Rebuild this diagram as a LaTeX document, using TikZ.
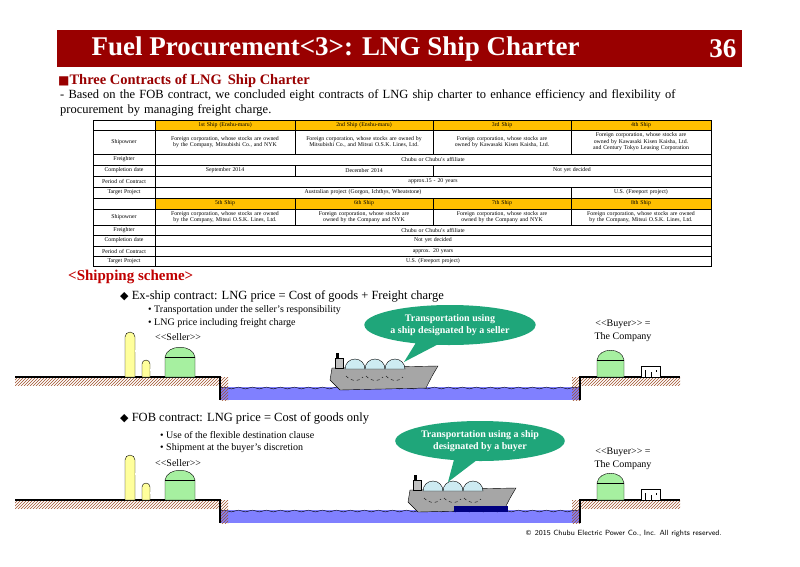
\documentclass[tikz,border=0pt]{standalone}
\usepackage{fontspec}
\setmainfont{Liberation Serif}
\newfontfamily\symfont{DejaVu Sans}
\usetikzlibrary{positioning,shapes.geometric,shapes.callouts,patterns,decorations.pathmorphing}

\definecolor{barred}{HTML}{990000}
\definecolor{headred}{HTML}{C00000}
\definecolor{hdrfill}{HTML}{FFC000}
\definecolor{bubble}{HTML}{1FA67A}
\definecolor{water}{HTML}{8080FF}
\definecolor{tankgreen}{HTML}{A6F0A0}
\definecolor{tankyellow}{HTML}{FFFF9C}
\definecolor{dome}{HTML}{CDEBF2}
\definecolor{hatch}{HTML}{A0522D}

\tikzset{
  tcell/.style={draw, inner sep=0pt, align=center, font=\fontsize{5.8}{6.4}\selectfont},
  callbox/.style={ellipse callout, fill=bubble, text=white, font=\bfseries\fontsize{10}{12}\selectfont, align=center, inner sep=1pt},
  land/.style={pattern=north east lines, pattern color=hatch, draw=none},
  pipe/.style={double, double distance=1.2pt, thin},
}

% one table cell: x1 x2 y1 y2 text fill
\newcommand\tcell[6]{%
  \node[tcell, fill=#6, minimum width={(#2-#1)*1pt}, minimum height={(#4-#3)*1pt},
        text width={(#2-#1-6)*1pt}] at ({(#1+#2)/2},{(#3+#4)/2}) {#5};}

% gas tank with a dome: left x, right x, base y, height
\newcommand\gastank[4]{%
  \draw[fill=tankgreen] (#1,#3) -- (#1,#3-#4) .. controls (#1+2,#3-#4-13) and (#2-2,#3-#4-13) .. (#2,#3-#4) -- (#2,#3) -- cycle;
  \draw (#1,#3-#4) -- (#2,#3-#4);}

% ship, bow at right; origin = left end of deck
\newcommand\lngship{%
  \draw[fill=gray!70] (2,0) -- (108,-2) .. controls (102,8) .. (96,20) -- (10,22) -- (0,12) -- cycle;
  \foreach \dx in {25,45,65} {
    \draw[fill=dome] (\dx-10,1) arc (180:360:10) -- cycle;
    \draw[dashed] (\dx-9,8) .. controls (\dx-3,14) and (\dx+3,14) .. (\dx+8,9);
  }
  \draw[fill=gray!50] (5,-10) rectangle (13,0);
  \fill (6,-15) rectangle (9,-9);}

% shore, water and plants of one scheme
\newcommand\shipscene{%
  \fill[water] (220,387) rectangle (580,400);
  \draw[decorate, decoration={snake, amplitude=0.9pt, segment length=14pt}] (220,388) -- (580,388);
  \path[land] (15,377) rectangle (220,385);
  \path[land] (220,377) rectangle (228,400);
  \path[land] (580,377) rectangle (680,385);
  \path[land] (572,377) rectangle (580,400);
  \draw[line width=1.3pt] (15,377) -- (220,377) -- (220,400);
  \draw[line width=1.3pt] (680,377) -- (580,377) -- (580,400);
  % seller plant
  \draw[fill=tankyellow] (125,377) -- (125,337) arc (180:360:5) -- (135,377) -- cycle;
  \draw[fill=tankyellow] (142,377) -- (142,364) arc (180:360:4) -- (150,377) -- cycle;
  \draw[pipe] (135,351) -- (140,351) -- (140,360);
  \draw[pipe] (150,370) -- (165,370);
  \draw[pipe] (195,370) -- (220,370);
  \gastank{165}{195}{377}{20}
  % buyer plant
  \draw[pipe] (580,370) -- (597,370);
  \draw[pipe] (624,370) -- (641,370);
  \gastank{597}{624}{377}{17}
  \draw[fill=white] (641,366) rectangle (660,377);
  \draw (645,370) -- (645,377) (651,372) -- (651,377) (656,370) -- (656,372);}

\begin{document}
\begin{tikzpicture}[x=1pt, y=-1pt]
  \useasboundingbox[fill=white] (0,0) rectangle (800,566);

  % title bar
  \fill[barred] (57,30) rectangle (742,67);
  \node[anchor=west, text=white, font=\bfseries\fontsize{27}{29}\selectfont] (title) at (88,49) {Fuel Procurement<3>: LNG Ship Charter};
  \node[anchor=east, text=white, font=\bfseries\fontsize{27}{29}\selectfont] (pageno) at (740,49) {36};

  \node[anchor=west, text=barred, font=\bfseries\fontsize{14.5}{16}\selectfont, inner sep=0pt] (sect) at (58,81) {\symfont\fontsize{12}{14}\selectfont ■\rmfamily\fontsize{14.5}{16}\selectfont Three Contracts of LNG\, Ship Charter};
  \node[anchor=north west, align=left, text width=650pt, inner sep=0pt, font=\fontsize{12.5}{15.5}\selectfont] (intro) at (60,89)
    {- Based on the FOB contract, we concluded eight contracts of LNG ship charter to enhance efficiency and flexibility of\\ procurement by managing freight charge.};

  % table, first half
  \tcell{93}{155}{120}{130}{}{white}
  \tcell{155}{295}{120}{130}{1st Ship (Enshu-maru)}{hdrfill}
  \tcell{295}{433}{120}{130}{2nd Ship (Enshu-maru)}{hdrfill}
  \tcell{433}{571}{120}{130}{3rd Ship}{hdrfill}
  \tcell{571}{711}{120}{130}{4th Ship}{hdrfill}
  \tcell{93}{155}{130}{154}{Shipowner}{white}
  \tcell{155}{295}{130}{154}{Foreign corporation, whose stocks are owned by the Company, Mitsubishi Co., and NYK}{white}
  \tcell{295}{433}{130}{154}{Foreign corporation, whose stocks are owned by Mitsubishi Co., and Mitsui O.S.K. Lines, Ltd.}{white}
  \tcell{433}{571}{130}{154}{Foreign corporation, whose stocks are owned by Kawasaki Kisen Kaisha, Ltd.}{white}
  \tcell{571}{711}{130}{154}{Foreign corporation, whose stocks are owned by Kawasaki Kisen Kaisha, Ltd. and Century Tokyo Leasing Corporation}{white}
  \tcell{93}{155}{154}{165}{Freighter}{white}
  \tcell{155}{711}{154}{165}{Chubu or Chubu's affiliate}{white}
  \tcell{93}{155}{165}{176}{Completion date}{white}
  \tcell{155}{295}{165}{176}{September 2014}{white}
  \tcell{295}{433}{165}{176}{December 2014}{white}
  \tcell{433}{711}{165}{176}{Not yet decided}{white}
  \tcell{93}{155}{176}{187}{Period of Contract}{white}
  \tcell{155}{711}{176}{187}{approx.15 - 20 years}{white}
  \tcell{93}{155}{187}{198}{Target Project}{white}
  \tcell{155}{571}{187}{198}{Australian project (Gorgon, Ichthys, Wheatstone)}{white}
  \tcell{571}{711}{187}{198}{U.S. (Freeport project)}{white}
  % table, second half
  \tcell{93}{155}{198}{209}{}{white}
  \tcell{155}{295}{198}{209}{5th Ship}{hdrfill}
  \tcell{295}{433}{198}{209}{6th Ship}{hdrfill}
  \tcell{433}{571}{198}{209}{7th Ship}{hdrfill}
  \tcell{571}{711}{198}{209}{8th Ship}{hdrfill}
  \tcell{93}{155}{209}{225}{Shipowner}{white}
  \tcell{155}{295}{209}{225}{Foreign corporation, whose stocks are owned by the Company, Mitsui O.S.K. Lines, Ltd.}{white}
  \tcell{295}{433}{209}{225}{Foreign corporation, whose stocks are owned by the Company and NYK}{white}
  \tcell{433}{571}{209}{225}{Foreign corporation, whose stocks are owned by the Company and NYK}{white}
  \tcell{571}{711}{209}{225}{Foreign corporation, whose stocks are owned by the Company, Mitsui O.S.K. Lines, Ltd.}{white}
  \tcell{93}{155}{225}{235}{Freighter}{white}
  \tcell{155}{711}{225}{235}{Chubu or Chubu's affiliate}{white}
  \tcell{93}{155}{235}{246}{Completion date}{white}
  \tcell{155}{711}{235}{246}{Not yet decided}{white}
  \tcell{93}{155}{246}{256}{Period of Contract}{white}
  \tcell{155}{711}{246}{256}{approx. 20 years}{white}
  \tcell{93}{155}{256}{266}{Target Project}{white}
  \tcell{155}{711}{256}{266}{U.S. (Freeport project)}{white}

  \node[anchor=west, text=headred, font=\bfseries\fontsize{15}{17}\selectfont, inner sep=0pt] (scheme) at (68,277) {<Shipping scheme>};

  % ex-ship contract
  \node[anchor=west, inner sep=0pt, font=\fontsize{12.5}{14}\selectfont] (exship) at (120,296) {{\symfont\fontsize{11}{12}\selectfont ◆} Ex-ship contract: LNG price = Cost of goods + Freight charge};
  \node[anchor=north west, align=left, inner sep=0pt, font=\fontsize{10}{13}\selectfont] (exnotes) at (148,305)
    {• Transportation under the seller's responsibility\\• LNG price including freight charge};
  \node[anchor=west, inner sep=0pt, font=\fontsize{10}{11}\selectfont] (seller1) at (155,337) {{<}{<}Seller{>}{>}};
  \node[align=center, inner sep=0pt, font=\fontsize{10}{13}\selectfont] (buyer1) at (623,331) {{<}{<}Buyer{>}{>} =\\The Company};
  \shipscene
  \begin{scope}[shift={(330,368)}]
    \lngship
  \end{scope}
  \node[callbox, minimum width=156pt, minimum height=40pt, callout absolute pointer={(404,362)}] (bubble1) at (450,325)
    {Transportation using\\a ship designated by a seller};

  % FOB contract
  \node[anchor=west, inner sep=0pt, font=\fontsize{12.5}{14}\selectfont] (fob) at (120,418) {{\symfont\fontsize{11}{12}\selectfont ◆} FOB contract: LNG price = Cost of goods only};
  \node[anchor=north west, align=left, inner sep=0pt, font=\fontsize{10}{12}\selectfont] (fobnotes) at (160,431)
    {• Use of the flexible destination clause\\• Shipment at the buyer's discretion};
  \node[anchor=west, inner sep=0pt, font=\fontsize{10}{11}\selectfont] (seller2) at (155,463) {{<}{<}Seller{>}{>}};
  \node[align=center, inner sep=0pt, font=\fontsize{10}{13}\selectfont] (buyer2) at (623,459) {{<}{<}Buyer{>}{>} =\\The Company};
  \begin{scope}[yshift=-123pt]
    \shipscene
  \end{scope}
  \begin{scope}[shift={(408,490)}]
    \lngship
    \fill[blue!50!black] (46,16) rectangle (100,22);
  \end{scope}
  \node[callbox, minimum width=160pt, minimum height=40pt, callout absolute pointer={(448,482)}] (bubble2) at (480,441)
    {Transportation using a ship\\designated by a buyer};

  \node[anchor=east, inner sep=0pt, font=\sffamily\fontsize{7.5}{9}\selectfont] (copy) at (722,534)
    {\symfont\fontsize{7}{9}\selectfont ©\sffamily\fontsize{7.5}{9}\selectfont\ 2015 Chubu Electric Power Co., Inc. All rights reserved.};
\end{tikzpicture}
\end{document}
